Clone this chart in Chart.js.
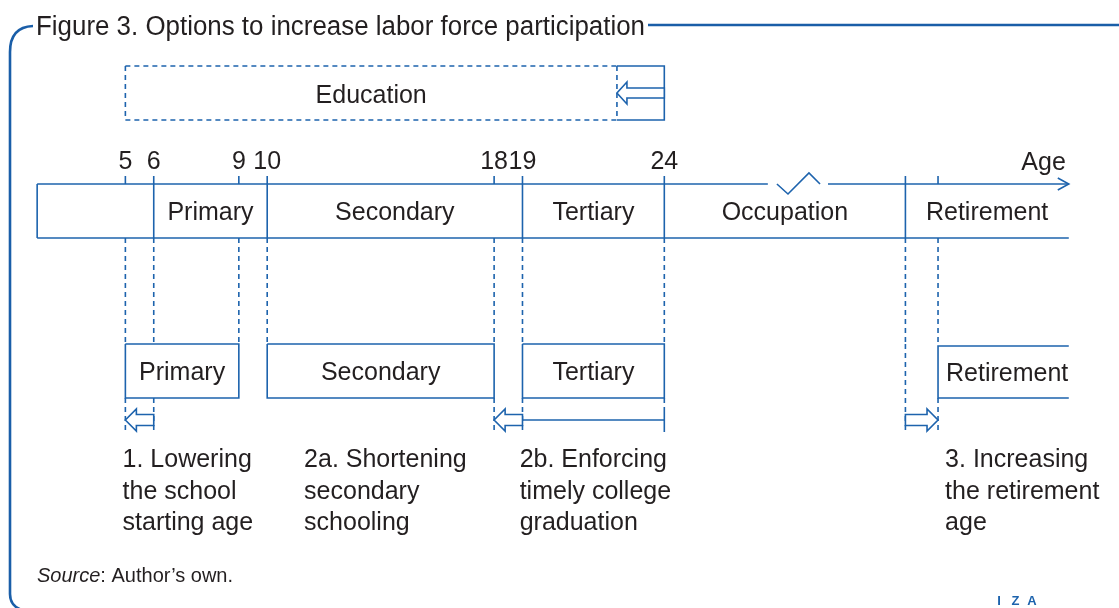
<!DOCTYPE html>
<html>
<head>
<meta charset="utf-8">
<script src="https://cdn.jsdelivr.net/npm/chart.js@4.4.1/dist/chart.umd.min.js"></script>
<style>
  html, body { margin: 0; padding: 0; background: #fff; }
  canvas { display: block; }
</style>
</head>
<body>
<canvas id="chart" width="1119" height="608"></canvas>
<script>
// Figure 3: options to increase labor force participation (ages on x, diagram rows on y)
const ageTicks = [5, 6, 9, 10, 18, 19, 24];
const stageNames = ["Primary", "Secondary", "Tertiary", "Occupation", "Retirement"];
const stageStart = [6, 10, 19, 24, 32.5];
const stageEnd = [10, 19, 24, 32.5, 38.26];
const reformNames = ["Primary", "Secondary", "Tertiary", "Retirement"];
const reformStart = [5, 10, 19, 33.65];
const reformEnd = [9, 18, 24, 38.26];
const arrowFrom = [6, 19, 32.5];
const arrowTo = [5, 18, 33.65];
const captionAge = [4.9, 11.3, 18.9, 33.9];
const captions = [
  ["1. Lowering", "the school", "starting age"],
  ["2a. Shortening", "secondary", "schooling"],
  ["2b. Enforcing", "timely college", "graduation"],
  ["3. Increasing", "the retirement", "age"]
];
const educationSpan = [5, 24];
const educationShift = 22.33;
const axisSpan = [1.89, 38.26];
const axisBreak = [27.65, 29.77];
const breakAges = [27.97, 28.36, 29.10, 29.49];

// layout rows (y in canvas units, top = 0)
const row = {
  eduTop: 66, eduMid: 93, eduBot: 120,
  tickTop: 176, axis: 184, barBot: 238,
  boxTop: 344, boxBot: 398, arrow: 420, arrowBot: 431
};
const breakRows = [184, 194, 173, 184];

const BLUE = "#1d63ad";
const INK = "#231f20";
const FONT = "'Liberation Sans', Arial, sans-serif";

function seg(pts, dash) {
  return {
    data: pts.map(([x, y]) => ({ x, y })),
    showLine: true,
    borderColor: BLUE,
    borderWidth: 1.6,
    borderDash: dash || [],
    pointRadius: 0,
    fill: false,
    tension: 0
  };
}
const DASH = [5, 4];
const datasets = [];

// education bar (dashed) and its shortened end (solid bracket)
datasets.push(seg([[educationSpan[0], row.eduTop], [educationShift, row.eduTop]], DASH));
datasets.push(seg([[educationSpan[0], row.eduBot], [educationShift, row.eduBot]], DASH));
datasets.push(seg([[educationSpan[0], row.eduTop], [educationSpan[0], row.eduBot]], DASH));
datasets.push(seg([[educationShift, row.eduTop], [educationShift, row.eduBot]], DASH));
datasets.push(seg([[educationShift, row.eduTop], [educationSpan[1], row.eduTop],
                   [educationSpan[1], row.eduBot], [educationShift, row.eduBot]]));

// age axis with a break
datasets.push(seg([[axisSpan[0], row.axis], [axisBreak[0], row.axis]]));
datasets.push(seg([[axisBreak[1], row.axis], [axisSpan[1], row.axis]]));
datasets.push(seg(breakAges.map((a, i) => [a, breakRows[i]])));
datasets.push(seg([[axisSpan[0], row.barBot], [axisSpan[1], row.barBot]]));
datasets.push(seg([[axisSpan[0], row.axis], [axisSpan[0], row.barBot]]));

// ticks and stage dividers
ageTicks.forEach(a => {
  const divider = stageStart.includes(a);
  datasets.push(seg([[a, row.tickTop], [a, divider ? row.barBot : row.axis]]));
});
datasets.push(seg([[stageStart[4], row.tickTop], [stageStart[4], row.barBot]]));
datasets.push(seg([[reformStart[3], row.tickTop], [reformStart[3], row.axis]]));

// reform boxes
reformStart.forEach((s, i) => {
  const e = reformEnd[i];
  if (i === 3) {
    datasets.push(seg([[e, row.boxTop + 2], [s, row.boxTop + 2], [s, row.boxBot], [e, row.boxBot]]));
  } else {
    datasets.push(seg([[s, row.boxTop], [e, row.boxTop], [e, row.boxBot], [s, row.boxBot], [s, row.boxTop]]));
  }
});

// dashed guides from the bar down to the reforms
const guideAges = ageTicks.concat([stageStart[4], reformStart[3]]);
const arrowAges = arrowFrom.concat(arrowTo);
guideAges.forEach(a => {
  const inBox = reformStart.some((s, i) => a >= s && a <= reformEnd[i]);
  datasets.push(seg([[a, row.barBot], [a, row.boxTop]], DASH));
  if (!inBox) datasets.push(seg([[a, row.boxTop], [a, row.boxBot]], DASH));
  if (arrowAges.includes(a)) datasets.push(seg([[a, row.boxBot], [a, row.arrowBot]], DASH));
});
// bracket for timely graduation
datasets.push(seg([[24, row.boxBot], [24, row.arrow - 12]], DASH));
datasets.push(seg([[24, row.arrow - 12], [24, row.arrowBot + 1]]));
datasets.push(seg([[arrowFrom[1], row.arrow], [24, row.arrow]]));

function hollowArrow(ctx, tailX, tipX, y, hl, hh, sh) {
  const d = Math.sign(tipX - tailX);
  const bx = tipX - d * hl;
  ctx.beginPath();
  ctx.moveTo(tailX, y - sh);
  ctx.lineTo(bx, y - sh);
  ctx.lineTo(bx, y - hh);
  ctx.lineTo(tipX, y);
  ctx.lineTo(bx, y + hh);
  ctx.lineTo(bx, y + sh);
  ctx.lineTo(tailX, y + sh);
  ctx.closePath();
  ctx.fillStyle = "#fff";
  ctx.fill();
  ctx.stroke();
}

const decor = {
  id: "decor",
  afterDatasetsDraw(chart) {
    const ctx = chart.ctx;
    const xs = chart.scales.x, ys = chart.scales.y;
    const X = v => xs.getPixelForValue(v);
    const Y = v => ys.getPixelForValue(v);
    ctx.save();
    ctx.strokeStyle = BLUE;
    ctx.lineWidth = 1.6;
    ctx.lineJoin = "miter";

    // arrows
    hollowArrow(ctx, X(educationSpan[1]), X(educationShift), Y(row.eduMid), 10, 11, 5);
    arrowFrom.forEach((f, i) => hollowArrow(ctx, X(f), X(arrowTo[i]), Y(row.arrow), 11, 11, 5.5));

    // axis arrowhead
    const ax = X(axisSpan[1]);
    ctx.beginPath();
    ctx.moveTo(ax - 11, Y(row.axis) - 6);
    ctx.lineTo(ax, Y(row.axis));
    ctx.lineTo(ax - 11, Y(row.axis) + 6);
    ctx.stroke();

    // frame
    ctx.lineWidth = 2.6;
    ctx.strokeStyle = "#1a5ea8";
    ctx.beginPath();
    ctx.moveTo(33, 26);
    ctx.quadraticCurveTo(10, 27, 10, 52);
    ctx.lineTo(10, 594);
    ctx.quadraticCurveTo(10, 606, 22, 610);
    ctx.stroke();
    ctx.beginPath();
    ctx.moveTo(648, 25);
    ctx.lineTo(1119, 25);
    ctx.stroke();

    // texts
    ctx.fillStyle = INK;
    ctx.textBaseline = "alphabetic";
    ctx.font = "27px " + FONT;
    ctx.textAlign = "left";
    ctx.fillText("Figure 3. Options to increase labor force participation", 36, 35, 609);

    ctx.font = "25px " + FONT;
    ctx.textAlign = "center";
    ctx.fillText("Education", X((educationSpan[0] + educationShift) / 2), Y(row.eduMid) + 10);
    ageTicks.forEach(a => ctx.fillText(String(a), X(a), Y(row.axis) - 15, 30));
    ctx.textAlign = "right";
    ctx.fillText("Age", X(axisSpan[1]) - 3, Y(row.axis) - 14);

    ctx.textAlign = "center";
    stageNames.forEach((n, i) => {
      ctx.fillText(n, X((stageStart[i] + stageEnd[i]) / 2), Y((row.axis + row.barBot) / 2) + 9);
    });
    reformNames.forEach((n, i) => {
      if (i === 3) {
        ctx.textAlign = "left";
        ctx.fillText(n, X(reformStart[i]) + 8, Y((row.boxTop + row.boxBot) / 2) + 10);
      } else {
        ctx.textAlign = "center";
        ctx.fillText(n, X((reformStart[i] + reformEnd[i]) / 2), Y((row.boxTop + row.boxBot) / 2) + 9);
      }
    });

    ctx.textAlign = "left";
    captions.forEach((lines, i) => {
      lines.forEach((t, j) => ctx.fillText(t, X(captionAge[i]), 467 + j * 31.5));
    });

    // source and logo
    ctx.font = "italic 20px " + FONT;
    ctx.fillText("Source", 37, 582);
    const w = ctx.measureText("Source").width;
    ctx.font = "20px " + FONT;
    ctx.fillText(": Author\u2019s own.", 37 + w, 582);

    ctx.fillStyle = BLUE;
    ctx.font = "bold 13px " + FONT;
    ctx.textAlign = "center";
    ["I", "Z", "A"].forEach((c, i) => ctx.fillText(c, 999 + i * 16.5, 605));
    ctx.restore();
  }
};

new Chart(document.getElementById("chart"), {
  type: "scatter",
  data: { datasets },
  options: {
    responsive: false,
    maintainAspectRatio: false,
    devicePixelRatio: 1,
    animation: false,
    layout: { padding: 0 },
    scales: {
      x: { type: "linear", display: false, min: 0.58, max: 40.03 },
      y: { type: "linear", display: false, min: 0, max: 608, reverse: true }
    },
    plugins: { legend: { display: false }, tooltip: { enabled: false } }
  },
  plugins: [decor]
});
</script>
</body>
</html>
